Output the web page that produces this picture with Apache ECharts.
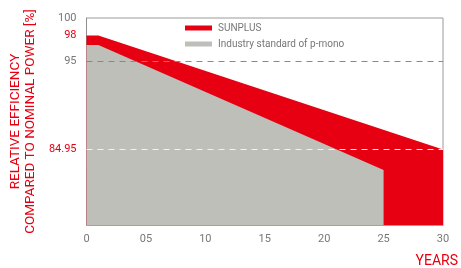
<!DOCTYPE html>
<html><head><meta charset="utf-8">
<script src="https://cdn.jsdelivr.net/npm/echarts@6/dist/echarts.min.js"></script>
<style>html,body{margin:0;padding:0;background:#fff}#c{width:461px;height:268px}</style>
</head><body><div id="c"></div>
<script>
// Data
const sunplusYears = [0, 1, 30];
const sunplusValues = [98, 98, 84.95];
const industryYears = [0, 1, 25];
const industryValues = [96.9, 96.9, 82.6];
const xTickValues = [0, 5, 10, 15, 20, 25, 30];
const xTickLabels = ['0', '05', '10', '15', '20', '25', '30'];
const yTickValues = [100, 98, 95, 84.95];
const yTickLabels = ['100', '98', '95', '84.95'];
const seriesNames = ['SUNPLUS', 'Industry standard of p-mono'];

const RED = '#e60012', GRAY = '#bfbfba';
const redLabels = {'98': true, '84.95': true};

const chart = echarts.init(document.getElementById('c'), null, {renderer: 'canvas'});
chart.setOption({
  animation: false,
  textStyle: {fontFamily: 'Roboto'},
  grid: {left: 84, right: 16, top: 18, bottom: 42, show: true, borderColor: '#9a9a9a', borderWidth: 1, containLabel: false},
  legend: {
    orient: 'vertical', left: 185, top: 23, padding: 0, itemWidth: 27, itemHeight: 5, itemGap: 6,
    icon: 'rect', selectedMode: false,
    textStyle: {fontSize: 10, color: '#777', fontFamily: 'Roboto', padding: [0, 0, 0, 1]},
    data: seriesNames
  },
  xAxis: {
    type: 'value', min: 0, max: 30, interval: 5,
    name: 'YEARS', nameLocation: 'end', nameGap: 15,
    nameTextStyle: {color: RED, fontSize: 14, align: 'right', verticalAlign: 'top', padding: [29, 0, 0, 0], fontFamily: 'Roboto'},
    axisLine: {show: true, lineStyle: {color: '#b39a9c', width: 1}},
    axisTick: {show: false},
    splitLine: {show: false},
    axisLabel: {
      color: '#777', fontSize: 11, margin: 9,
      formatter: v => { const i = xTickValues.indexOf(v); return i >= 0 ? xTickLabels[i] : ''; }
    }
  },
  yAxis: {
    type: 'value', min: 76.3, max: 100,
    name: 'RELATIVE EFFICIENCY\nCOMPARED TO NOMINAL POWER [%]',
    nameLocation: 'middle', nameRotate: 90, nameGap: 42,
    nameTextStyle: {color: RED, fontSize: 13.5, lineHeight: 15, fontFamily: 'Roboto'},
    axisLine: {show: true, lineStyle: {color: '#8f8f8f'}},
    axisTick: {show: false},
    splitLine: {show: false},
    axisLabel: {
      customValues: yTickValues, fontSize: 11, margin: 10,
      formatter: v => { const i = yTickValues.indexOf(v); const t = i >= 0 ? yTickLabels[i] : String(v); return redLabels[t] ? '{r|' + t + '}' : '{g|' + t + '}'; },
      rich: {r: {color: RED, fontSize: 11}, g: {color: '#777', fontSize: 11}}
    }
  },
  series: [
    {
      name: seriesNames[0], type: 'line', symbol: 'none', z: 2,
      color: RED,
      lineStyle: {width: 0, color: RED},
      areaStyle: {color: RED, opacity: 1},
      data: sunplusYears.map((x, i) => [x, sunplusValues[i]])
    },
    {
      name: seriesNames[1], type: 'line', symbol: 'none', z: 3,
      color: GRAY,
      lineStyle: {width: 0, color: GRAY},
      areaStyle: {color: GRAY, opacity: 1},
      data: industryYears.map((x, i) => [x, industryValues[i]]),
      markLine: {
        silent: true, symbol: 'none', animation: false,
        label: {show: false},
        data: [
          {yAxis: yTickValues[2], lineStyle: {color: '#888', type: [6, 5], width: 1}},
          {yAxis: yTickValues[3], lineStyle: {color: '#f2f2f2', type: [6, 5], width: 1}}
        ]
      }
    }
  ]
});
</script></body></html>
